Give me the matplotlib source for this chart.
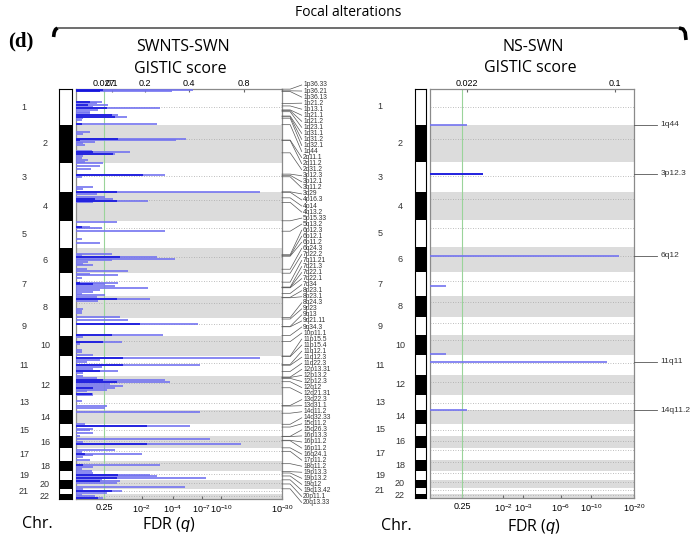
import re
import numpy as np
import matplotlib.pyplot as plt
from matplotlib import transforms

plt.rcParams['font.family'] = ['Liberation Sans', 'DejaVu Sans']
plt.rcParams['mathtext.fontset'] = 'custom'
plt.rcParams['mathtext.rm'] = 'Liberation Sans'
plt.rcParams['mathtext.it'] = 'Liberation Sans:italic'

# chromosome sizes (plot units), centromere position as fraction of chromosome
chrom_len = [36, 37.5, 29.5, 28.5, 27, 25, 23.5, 21.5, 18, 20, 20, 19.5,
             15, 14, 12, 12, 12.5, 10.5, 9, 8.5, 5.5, 4.5]
centromere_frac = [0.5, 0.38, 0.46, 0.26, 0.27, 0.36, 0.37, 0.31, 0.33, 0.25, 0.38,
                   0.37, 0.53, 0.03, 0.5, 0.42, 0.17, 0.18, 0.33, 0.3, 0.4, 0.3]

# SWNTS-SWN: genome position, bar length and dark part (% of axis)
swnts_pos = [1.3, 2.3, 12.7, 14.3, 16.0, 17.7, 19.3, 21.0, 22.7, 24.3, 26.0, 27.7, 29.3, 31.0,
             35.3, 43.3, 45.0, 50.0, 51.3, 52.7, 54.3, 56.3, 61.7, 63.3, 65.0, 67.0, 69.3, 71.0,
             72.7, 74.3, 77.0, 80.3, 86.0, 88.3, 98.3, 100.3, 102.7, 104.7, 108.3, 110.0, 111.7,
             113.3, 132.7, 137.7, 139.3, 141.7, 150.3, 154.3, 164.3, 166.0, 167.7, 169.3, 171.0,
             172.7, 174.3, 176.0, 179.3, 181.7, 184.3, 186.0, 188.3,
             193.3, 195.0, 197.0, 198.7, 200.3, 202.7, 204.3, 206.0, 207.7, 209.7, 211.7, 220.0,
             221.7, 223.7, 227.7, 231.0, 235.0, 245.3, 247.7, 252.7, 255.0, 260.3, 262.7, 266.0,
             268.3, 270.3, 272.7, 275.3, 277.7, 279.7, 281.7, 283.7, 286.3, 288.3, 290.3, 292.3,
             294.3, 296.3, 298.3, 300.3, 302.0, 304.3, 306.0, 312.0, 317.0, 318.7, 322.7, 335.0,
             337.0, 339.3, 341.0, 343.3, 347.0, 349.3, 352.7, 354.3, 361.0, 362.7, 364.3, 366.0,
             367.7, 371.0, 375.3, 377.7, 380.0,
             381.7, 383.3, 385.3, 387.0, 388.7, 390.3, 392.0, 393.7, 397.7, 399.7, 401.7, 403.7,
             405.3, 407.0, 408.3, 410.0]
swnts_len = [56.9, 46.5, 12.6, 10.2, 15.8, 8.5, 40.8, 11.0, 6.9, 6.9, 20.6, 24.7, 3.7, 2.9,
             39.2, 6.9, 3.7, 53.7, 48.4, 9.4, 3.7, 4.5, 7.7, 26.3, 19.0, 3.7, 2.9, 6.1,
             4.5, 13.4, 11.8, 7.4, 43.2, 2.9, 8.5, 3.7, 89.2, 10.2, 14.2, 18.2, 35.2,
             8.5, 19.8, 6.9, 12.6, 43.2, 2.9, 11.8, 17.4, 2.9, 39.2, 48.1, 17.4,
             6.1, 3.7, 8.5, 5.3, 25.5, 6.9, 20.6, 2.9,
             20.6, 14.2, 19.0, 35.2, 11.8, 8.5, 2.9, 14.2, 10.2, 36.0, 11.0, 3.7,
             2.9, 2.9, 21.5, 25.5, 59.4, 42.4, 3.7, 22.3, 2.1, 2.9, 2.9, 8.5,
             89.2, 11.8, 5.3, 60.2, 12.6, 8.5, 20.6, 3.7, 3.7, 10.2, 43.2, 45.6,
             16.6, 23.1, 19.0, 15.0, 5.3, 8.5, 8.5, 2.9, 15.0, 14.2, 60.2, 4.5,
             55.3, 8.5, 6.9, 8.5, 2.1, 65.0, 3.7, 80.3, 19.0, 2.9, 31.9, 8.5,
             3.7, 6.9, 40.8, 8.5, 2.9,
             7.7, 8.5, 36.0, 39.2, 63.4, 12.6, 21.5, 19.8, 52.9, 3.7, 22.3, 15.0,
             2.9, 9.4, 13.4, 3.7]
swnts_dark = [13.4, 11.8, 6.9, 0, 6.1, 0, 15.0, 0, 0, 0, 17.4, 19.0, 0, 0,
              3.0, 0, 0, 20.6, 2.1, 0, 0, 0, 0, 8.5, 18.2, 0, 0, 0,
              0, 0, 0, 0, 32.7, 0, 0, 0, 19.8, 0, 0, 9.4, 19.8,
              0, 0, 2.9, 0, 0, 0, 0, 0, 0, 21.5, 0, 0,
              0, 0, 0, 0, 0, 0, 0, 0,
              2.1, 8.5, 0, 0, 0, 0, 0, 0, 0, 19.8, 0, 0,
              0, 0, 0, 0, 31.1, 17.4, 0, 13.4, 0, 0, 0, 0,
              23.1, 0, 0, 23.1, 0, 0, 11.8, 0, 0, 0, 13.4, 19.8,
              0, 0, 8.5, 0, 0, 7.7, 0, 0, 0, 0, 0, 0,
              34.4, 0, 0, 0, 0, 0, 0, 34.4, 0, 0, 4.5, 0,
              0, 0, 3.7, 0, 0,
              0, 0, 20.6, 0, 19.8, 0, 11.8, 0, 0, 0, 17.4, 0,
              0, 0, 11.0, 0]

swnts_labels = ['1p36.33', '1p36.21', '1p36.13', '1p21.2', '1p13.1', '1q21.1', '1q21.2', '1q23.1',
                '1q31.1', '1q31.2', '1q32.1', '1q44', '2q11.1', '2q11.2', '2q31.2',
                '3p12.3', '3p12.1', '3q11.2', '3q29', '4p16.3', '4p14', '4q13.2',
                '5p15.33', '5q13.2', '6p12.3', '6p12.1', '6p11.2', '6q24.3',
                '7p22.2', '7q11.21', '7q21.3', '7q22.1', '7q22.1', '7q34',
                '8p23.1', '8p23.1', '8q24.3', '9p23', '9q13', '9q21.11', '9q34.3',
                '10p11.1', '11p15.5', '11p15.4', '11q12.1', '11q12.3', '11q22.3',
                '12p13.31', '12p13.2', '12p12.3', '12q12', '12q21.31', '13q22.3', '13q31.1',
                '14q11.2', '14q32.33', '15q11.2', '15q26.3',
                '16p13.3', '16p11.2', '16p11.2', '16q24.1', '17p11.2', '18q11.2',
                '19p13.3', '19p13.2', '19q12', '19q13.42', '20p11.1', '20q13.33']
swnts_label_frac = [0.004, 0.05, 0.07, 0.40, 0.47, 0.58, 0.60, 0.63, 0.75, 0.77, 0.81, 0.99,
                    0.40, 0.41, 0.74, 0.39, 0.43, 0.48, 0.99, 0.005, 0.2, 0.36,
                    0.005, 0.39, 0.28, 0.32, 0.34, 0.86,
                    0.02, 0.40, 0.61, 0.63, 0.64, 0.88, 0.05, 0.07, 0.99,
                    0.07, 0.48, 0.5, 0.98, 0.29, 0.01, 0.04, 0.43, 0.47, 0.78,
                    0.06, 0.08, 0.13, 0.30, 0.61, 0.67, 0.71, 0.2, 0.99, 0.22, 0.99,
                    0.01, 0.32, 0.36, 0.95, 0.23, 0.26, 0.02, 0.17, 0.5, 0.93, 0.41, 0.98]

# NS-SWN
ns_pos = [36, 85, 167, 197, 265, 273, 321.5]
ns_len = [18.1, 26.0, 92.6, 7.8, 7.8, 86.8, 18.1]
ns_dark = [0, 26.0, 0, 0, 0, 0, 0]
ns_labels = ['1q44', '3p12.3', '6q12', '11q11', '14q11.2']
ns_label_pos = [36, 85, 167, 273, 321.5]

# axis ticks (% of axis width)
swnts_top = ([13.7, 17.6, 33.6, 54.9, 81.6], ['0.027', '0.1', '0.2', '0.4', '0.8'])
swnts_bot = ([13.7, 32.1, 47.2, 61.2, 70.4, 100],
             ['0.25', '$10^{-2}$', '$10^{-4}$', '$10^{-7}$', '$10^{-10}$', '$10^{-30}$'])
ns_top = ([18.1, 90.7], ['0.022', '0.1'])
ns_bot = ([15.7, 35.8, 45.6, 64.2, 78.9, 100],
          ['0.25', '$10^{-2}$', '$10^{-3}$', '$10^{-6}$', '$10^{-10}$', '$10^{-20}$'])

W, H = 695, 538
fig = plt.figure(figsize=(W / 100, H / 100), dpi=100)


def box(x0, y0, x1, y1):
    return [x0 / W, 1 - y1 / H, (x1 - x0) / W, (y1 - y0) / H]


starts = np.concatenate([[0], np.cumsum(chrom_len)[:-1]])
total = float(np.sum(chrom_len))


def draw_panel(xc, xp, ybot, odd_x, even_x, pos, length, dark, thr, top, bot):
    ax_c = fig.add_axes(box(xc[0], 89, xc[1], ybot))
    ax_c.bar(0.5, chrom_len, bottom=starts, width=1.0,
             color=['white' if i % 2 == 0 else 'black' for i in range(22)], lw=0)
    ax_c.set_xlim(0, 1)
    ax_c.set_ylim(total, 0)
    ax_c.set_xticks([])
    ax_c.set_yticks([])
    for s in ax_c.spines.values():
        s.set_linewidth(0.8)

    ax = fig.add_axes(box(xp[0], 89, xp[1], ybot))
    ax.set_xlim(0, 100)
    ax.set_ylim(total, 0)
    for i in range(22):
        if i % 2 == 1:
            ax.axhspan(starts[i], starts[i] + chrom_len[i], color='#dcdcdc', lw=0, zorder=0)
        ax.axhline(starts[i] + centromere_frac[i] * chrom_len[i], color='#a8a8a8',
                   ls=(0, (1, 2)), lw=0.6, zorder=1)
    ax.axvline(thr, color='#9ad49a', lw=0.8, zorder=2)
    ax.hlines(pos, 0, length, color='#7373f0', lw=1.2, zorder=3)
    ax.hlines(pos, 0, dark, color='#1414dc', lw=1.2, zorder=4)
    for s in ax.spines.values():
        s.set_color('#8a8a8a')
        s.set_linewidth(0.9)
    ax.set_yticks([])
    ax.set_xticks(bot[0], bot[1])
    ax.tick_params(direction='in', length=2, labelsize=6.5, pad=3, color='#666666')
    sec = ax.secondary_xaxis('top')
    sec.set_xticks(top[0], top[1])
    sec.tick_params(direction='in', length=2, labelsize=6.5, pad=1, color='#666666')
    sec.spines['top'].set_visible(False)

    tr = transforms.blended_transform_factory(fig.transFigure, ax.transData)
    for i in range(22):
        x = odd_x if i % 2 == 0 else even_x
        fig.text(x / W, starts[i] + chrom_len[i] / 2, str(i + 1), transform=tr,
                 ha='center', va='center', fontsize=6.5, color='#333333')
    return ax


ax1 = draw_panel((59, 72), (75.7, 282), 499, 24, 45,
                 swnts_pos, swnts_len, swnts_dark, 13.7, swnts_top, swnts_bot)
ax2 = draw_panel((415, 426), (430, 634), 498, 380, 400,
                 ns_pos, ns_len, ns_dark, 15.7, ns_top, ns_bot)

# peak labels, left panel
axl = fig.add_axes(box(282, 89, 350, 499))
axl.set_xlim(0, 1)
axl.set_ylim(total, 0)
axl.axis('off')
lab_y = np.linspace(-4, 413, len(swnts_labels))
for lab, f, ly in zip(swnts_labels, swnts_label_frac, lab_y):
    c = int(re.match(r'\d+', lab).group()) - 1
    g = starts[c] + f * chrom_len[c]
    axl.plot([0, 0.12, 0.29], [g, g, ly], color='#555555', lw=0.5, clip_on=False)
    axl.text(0.31, ly, lab, fontsize=4.8, va='center', ha='left', color='#333333', clip_on=False)

# peak labels, right panel
axr = fig.add_axes(box(634, 89, 695, 498))
axr.set_xlim(0, 1)
axr.set_ylim(total, 0)
axr.axis('off')
for lab, g in zip(ns_labels, ns_label_pos):
    axr.plot([0, 0.38], [g, g], color='#555555', lw=0.6, clip_on=False)
    axr.text(0.43, g, lab, fontsize=6, va='center', ha='left', color='#333333')

# titles and bracket
ov = fig.add_axes([0, 0, 1, 1], facecolor='none')
ov.set_xlim(0, W)
ov.set_ylim(H, 0)
ov.axis('off')
sans = ['Open Sans', 'DejaVu Sans']
ov.text(348, 13, 'Focal alterations', fontsize=10, family=sans, ha='center', va='center')
ov.text(8, 41, '(d)', fontsize=15, family='Liberation Serif', weight='bold', ha='left', va='center')
ov.plot([57, 681], [28, 28], color='#555555', lw=1.2)
ov.plot([57.5, 55.5, 54.2, 53.6], [28, 29.5, 32.5, 37], color='black', lw=2.6,
        solid_capstyle='butt')
ov.plot([679, 683, 685.2, 686], [28, 29, 32.5, 40], color='black', lw=2.6,
        solid_capstyle='butt')
ov.text(183, 47, 'SWNTS-SWN', fontsize=11.5, family=sans, ha='center', va='center')
ov.text(180, 69, 'GISTIC score', fontsize=11.5, family=sans, ha='center', va='center')
ov.text(533, 47, 'NS-SWN', fontsize=11.5, family=sans, ha='center', va='center')
ov.text(530, 68, 'GISTIC score', fontsize=11.5, family=sans, ha='center', va='center')
ov.text(37, 524, 'Chr.', fontsize=11.5, family=sans, ha='center', va='center')
ov.text(396, 526, 'Chr.', fontsize=11.5, family=sans, ha='center', va='center')
ov.text(169, 524, 'FDR ($q$)', fontsize=11.5, family=sans, ha='center', va='center')
ov.text(534, 526, 'FDR ($q$)', fontsize=11.5, family=sans, ha='center', va='center')

fig.savefig('out.png', dpi=100)
